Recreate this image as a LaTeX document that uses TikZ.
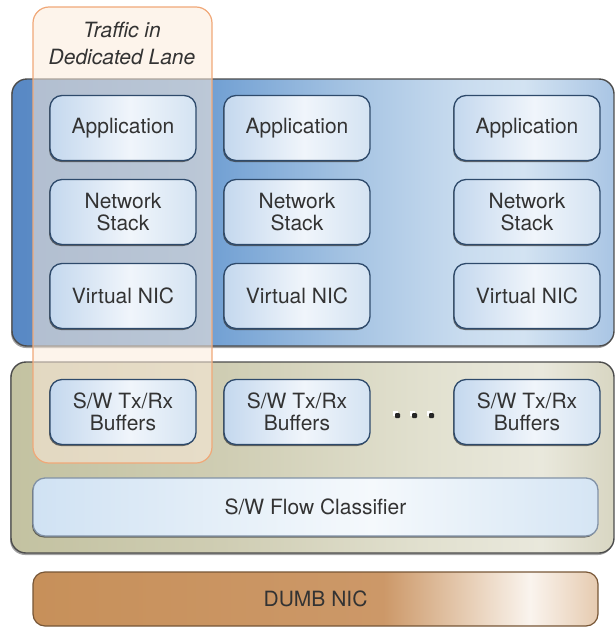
\documentclass[tikz,border=0pt]{standalone}
\usepackage{fontspec}
\setmainfont{TeX Gyre Heros}
\usetikzlibrary{shadows}

\definecolor{inktext}{HTML}{333333}
\definecolor{hostA}{HTML}{5888C4}
\definecolor{hostB}{HTML}{6A9BD1}
\definecolor{hostC}{HTML}{A3C2E2}
\definecolor{hostD}{HTML}{C9DCEF}
\definecolor{hostE}{HTML}{D3E3F2}
\definecolor{hostF}{HTML}{A9C5E4}
\definecolor{kernA}{HTML}{C3C2A1}
\definecolor{kernB}{HTML}{CFCDB3}
\definecolor{kernC}{HTML}{E2E1D0}
\definecolor{kernD}{HTML}{E9E8DC}
\definecolor{kernE}{HTML}{D8D6C2}
\definecolor{vmA}{HTML}{C4D8EE}
\definecolor{vmB}{HTML}{F0F5FB}
\definecolor{vmC}{HTML}{D4E3F2}
\definecolor{clsA}{HTML}{D0E2F3}
\definecolor{clsB}{HTML}{F5F9FC}
\definecolor{clsC}{HTML}{D5E5F4}
\definecolor{nicA}{HTML}{C7905A}
\definecolor{nicB}{HTML}{CC9868}
\definecolor{nicC}{HTML}{ECD8C4}
\definecolor{nicD}{HTML}{FAF4EE}
\definecolor{nicE}{HTML}{E6CBB0}
\definecolor{boxline}{HTML}{2E4A6B}
\definecolor{lanefill}{HTML}{FCEBDB}
\definecolor{laneline}{HTML}{F0A878}

% the path is fitted to the middle half (25bp to 75bp) of each shading
\pgfdeclarehorizontalshading{hostshade}{100bp}{color(0bp)=(hostA); color(25bp)=(hostA); color(40bp)=(hostB); color(52.5bp)=(hostC); color(62.5bp)=(hostD); color(67.5bp)=(hostE); color(75bp)=(hostF); color(100bp)=(hostF)}
\pgfdeclarehorizontalshading{kernshade}{100bp}{color(0bp)=(kernA); color(25bp)=(kernA); color(42.5bp)=(kernB); color(60bp)=(kernC); color(69bp)=(kernD); color(75bp)=(kernE); color(100bp)=(kernE)}
\pgfdeclarehorizontalshading{vmshade}{100bp}{color(0bp)=(vmA); color(25bp)=(vmA); color(52.5bp)=(vmB); color(75bp)=(vmC); color(100bp)=(vmC)}
\pgfdeclarehorizontalshading{clsshade}{100bp}{color(0bp)=(clsA); color(25bp)=(clsA); color(55bp)=(clsB); color(75bp)=(clsC); color(100bp)=(clsC)}
\pgfdeclarehorizontalshading{nicshade}{100bp}{color(0bp)=(nicA); color(25bp)=(nicA); color(56bp)=(nicB); color(65bp)=(nicC); color(69bp)=(nicD); color(75bp)=(nicE); color(100bp)=(nicE)}

\tikzset{
  outerbox/.style={draw=black!70, line width=1.4pt, rounded corners=15pt,
    drop shadow={shadow xshift=-1pt, shadow yshift=-2pt, fill=black!60, opacity=0.6}},
  lane/.style={draw=laneline, line width=1.2pt, rounded corners=16pt, fill=lanefill, fill opacity=0.55},
  lanetitle/.style={text=inktext, align=center, font=\fontsize{21}{27}\selectfont\itshape},
  vmbox/.style={draw=boxline, line width=1.3pt, rounded corners=12pt, shading=vmshade,
    minimum width=146pt, minimum height=65pt, inner sep=0pt, align=center, text=inktext,
    font=\fontsize{21}{22}\selectfont,
    drop shadow={shadow xshift=-1pt, shadow yshift=-1.5pt, fill=black!80, opacity=0.7}},
  classbox/.style={vmbox, draw=boxline!60, shading=clsshade, minimum width=565pt, minimum height=58pt},
  nicbox/.style={draw=nicA!60!black, line width=1.2pt, rounded corners=12pt, shading=nicshade,
    minimum width=565pt, minimum height=54pt, inner sep=0pt, text=inktext,
    font=\fontsize{21}{22}\selectfont},
  dotmark/.style={fill=black!85, rounded corners=1pt}
}

\begin{document}
\begin{tikzpicture}[x=1pt,y=-1pt]
\useasboundingbox (0,0) rectangle (616,627);
\path[outerbox, shading=hostshade] (12,79) rectangle (614,346);
\path[outerbox, shading=kernshade] (11,362) rectangle (614,553);
\path[lane] (33,7) rectangle (212,463);
\node[lanetitle] (title) at (122,43) {Traffic in\\Dedicated Lane};
\foreach \x/\n in {123/a,297/b,527/c}{
  \node[vmbox] (app-\n) at (\x,128) {Application};
  \node[vmbox] (stack-\n) at (\x,212) {Network\\Stack};
  \node[vmbox] (vnic-\n) at (\x,296) {Virtual NIC};
  \node[vmbox] (buf-\n) at (\x,412) {S/W Tx/Rx\\Buffers};
}
\foreach \x in {397,414,431}{
  \fill[white] (\x-4,411) rectangle +(5,5);
  \fill[dotmark] (\x-2,413) rectangle +(5,5);
}
\node[classbox] (classifier) at (315.5,507) {S/W Flow Classifier};
\node[nicbox] (nic) at (315.5,599) {DUMB NIC};
\end{tikzpicture}
\end{document}
